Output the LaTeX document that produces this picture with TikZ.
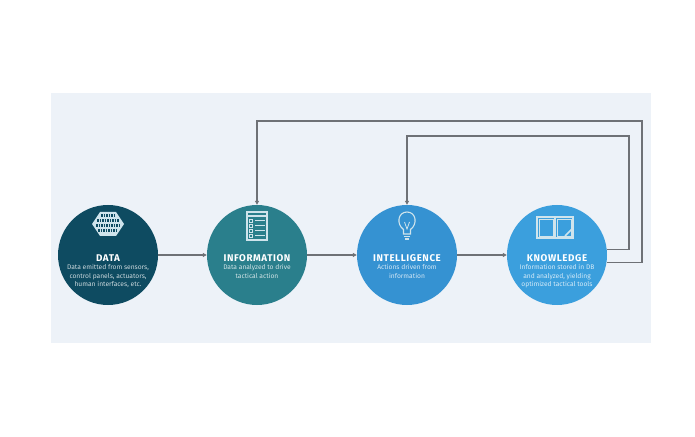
\documentclass[tikz,border=0pt]{standalone}
\usepackage{fontspec}
\setmainfont{Fira Sans}
\newfontfamily\ttlfont[LetterSpace=6]{Fira Sans}
\usetikzlibrary{arrows.meta,calc}
\definecolor{panel}{HTML}{EDF2F8}
\definecolor{cdata}{HTML}{0E4B61}
\definecolor{cinfo}{HTML}{2A7F8C}
\definecolor{cintel}{HTML}{3592D2}
\definecolor{cknow}{HTML}{3B9FDD}
\definecolor{cline}{HTML}{6E7176}
\definecolor{iconc}{HTML}{CFE4EC}
\tikzset{
  stage/.style={circle, minimum size=100bp, inner sep=0pt, draw=none},
  ttl/.style={text=white, font=\ttlfont\fontsize{9.8}{10}\selectfont\bfseries, inner sep=0pt},
  desc/.style={text=white, text opacity=0.78, font=\fontsize{6.7}{8.4}\selectfont, align=center, inner sep=0pt, anchor=north},
  conn/.style={draw=cline, line width=1.2bp, -{Triangle[length=4bp,width=4bp]}},
  fb/.style={draw=cline, line width=1.2bp, -{Triangle[length=4bp,width=4bp]}},
  ico/.style={draw=iconc, line width=1.1bp},
}
\begin{document}
\begin{tikzpicture}[x=1bp,y=-1bp]
\useasboundingbox (0,0) rectangle (695,437);
\fill[panel] (51,93) rectangle (651,343);

% circles
\node[stage, fill=cdata]  (D) at (108,255) {};
\node[stage, fill=cinfo]  (F) at (257,255) {};
\node[stage, fill=cintel] (I) at (407,255) {};
\node[stage, fill=cknow]  (K) at (557,255) {};

% titles
\node[ttl] (Dt) at (108,258) {DATA};
\node[ttl] (Ft) at (257,258) {INFORMATION};
\node[ttl] (It) at (407,258) {INTELLIGENCE};
\node[ttl] (Kt) at (557,258) {KNOWLEDGE};

% descriptions
\node[desc] (Dd) at (108,264.5) {Data emitted from sensors,\\control panels, actuators,\\human interfaces, etc.};
\node[desc] (Fd) at (257,264.5) {Data analyzed to drive\\tactical action};
\node[desc] (Id) at (407,264.5) {Actions driven from\\information};
\node[desc] (Kd) at (557,264.5) {Information stored in DB\\and analyzed, yielding\\optimized tactical tools};

% forward connectors
\draw[conn] (D) -- (F);
\draw[conn] (F) -- (I);
\draw[conn] (I) -- (K);

% feedback connectors
\coordinate (c1) at (629,136);
\coordinate (c2) at (642,121);
\draw[fb] (K.6) -- (K.6 -| c1) -- (c1) -- (c1 -| I.north) -- (I.north);
\draw[fb] (K.-9) -- (K.-9 -| c2) -- (c2) -- (c2 -| F.north) -- (F.north);

% DATA icon: hexagon with binary rows
\fill[iconc] (92,224) -- (100,212) -- (116,212) -- (124,224) -- (116,236) -- (100,236) -- cycle;
\begin{scope}[draw=cdata, line width=2.2bp, dash pattern=on 1.6bp off 0.9bp]
\draw (101,215.5) -- (115,215.5);
\draw (97,220.5) -- (119,220.5);
\draw (96,225.5) -- (120,225.5);
\draw (98,230.5) -- (118,230.5);
\end{scope}

% INFORMATION icon: checklist
\draw[ico] (247,212) rectangle (267,240);
\draw[ico] (247,216) -- (267,216);
\foreach \yy in {220.5,225.5,230.5,235.5}{
  \draw[ico, line width=0.8bp] (249.5,\yy-1.5) rectangle (252.5,\yy+1.5);
  \draw[ico, line width=1.3bp] (255,\yy) -- (264.5,\yy);
}

% INTELLIGENCE icon: light bulb
\draw[ico] (403.5,229.5) .. controls (396,224) and (398,212) .. (407,212)
   .. controls (416,212) and (418,224) .. (410.5,229.5) -- (410.5,234) -- (403.5,234) -- cycle;
\draw[ico, line width=0.8bp] (404.5,222) -- (407,229) -- (409.5,222);
\draw[ico] (404,236.5) -- (410,236.5);
\draw[ico] (405,239) -- (409,239);

% KNOWLEDGE icon: open book with pencil
\draw[ico] (537,217) rectangle (573,238);
\draw[ico] (555,217) -- (555,238);
\draw[ico, line width=0.6bp] (539,219) rectangle (553,236);
\draw[ico, line width=0.6bp] (557,219) rectangle (571,236);
\draw[ico, line width=1.6bp] (565,236) -- (573,228);
\end{tikzpicture}
\end{document}
